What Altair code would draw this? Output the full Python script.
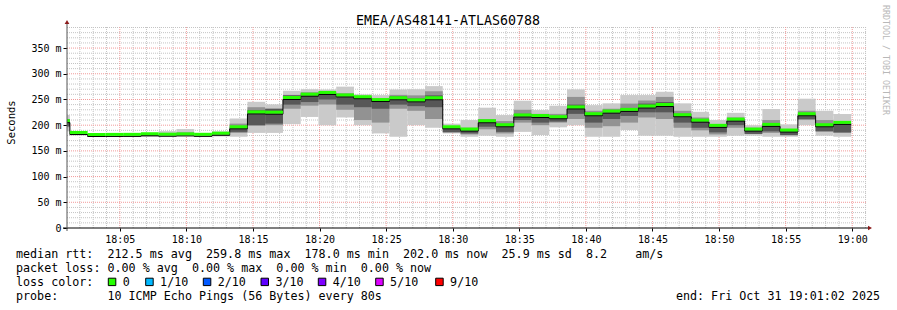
import altair as alt
import pandas as pd

# ---------------- data ----------------
seg_start = [
    "18:01:02", "18:01:15", "18:02:35", "18:03:55", "18:05:15", "18:06:35",
    "18:07:55", "18:09:15", "18:10:35", "18:11:55", "18:13:15", "18:14:35",
    "18:15:55", "18:17:15", "18:18:35", "18:19:55", "18:21:15", "18:22:35",
    "18:23:55", "18:25:15", "18:26:35", "18:27:55", "18:29:15", "18:30:35",
    "18:31:55", "18:33:15", "18:34:35", "18:35:55", "18:37:15", "18:38:35",
    "18:39:55", "18:41:15", "18:42:35", "18:43:55", "18:45:15", "18:46:35",
    "18:47:55", "18:49:15", "18:50:35", "18:51:55", "18:53:15", "18:54:35",
    "18:55:55", "18:57:15", "18:58:35",
]
seg_last_end = "18:59:55"
range_start = "18:01:02"
range_end = "19:01:02"

median_ms = [
    205.0, 182.0, 178.0, 178.2, 178.3, 179.5, 178.6, 179.2, 178.4, 180.6,
    193.0, 222.0, 221.5, 250.0, 256.5, 259.8, 255.0, 251.5, 246.0, 249.5,
    245.5, 249.5, 193.0, 188.6, 204.8, 197.0, 216.0, 215.0, 212.6, 231.7,
    218.4, 223.6, 226.9, 233.5, 236.3, 216.5, 206.0, 195.8, 208.0, 188.6,
    197.7, 186.7, 218.4, 197.0, 201.6,
]
ping_min = [
    188.0, 180.0, 177.0, 177.0, 177.5, 177.5, 178.0, 178.0, 177.5, 178.0,
    177.5, 185.0, 185.0, 202.0, 216.0, 200.0, 215.0, 200.0, 184.0, 177.5,
    200.0, 195.0, 184.0, 177.5, 179.5, 177.5, 187.0, 180.8, 195.8, 200.0,
    177.5, 177.5, 190.5, 179.5, 179.5, 177.5, 177.5, 177.5, 179.5, 179.5,
    177.5, 177.5, 200.0, 179.5, 177.5,
]
ping_q1 = [
    196.0, 181.0, 177.5, 177.5, 178.0, 178.5, 178.5, 179.0, 178.0, 179.5,
    185.0, 199.0, 200.0, 232.0, 238.0, 240.0, 230.0, 210.0, 205.0, 232.0,
    228.0, 212.0, 187.0, 182.0, 192.0, 184.0, 205.0, 200.0, 205.0, 212.0,
    195.0, 198.0, 205.0, 215.0, 212.0, 195.0, 190.0, 182.0, 195.0, 184.0,
    185.0, 180.0, 210.0, 188.0, 185.0,
]
ping_inner_lo = [
    198.0, 181.5, 177.8, 177.8, 178.0, 178.8, 178.5, 181.4, 178.0, 179.8,
    187.0, 200.0, 203.0, 240.0, 245.0, 250.0, 240.0, 235.0, 232.0, 240.0,
    237.0, 235.0, 186.0, 184.0, 197.0, 187.0, 210.0, 205.0, 207.0, 222.0,
    205.0, 212.0, 218.0, 225.0, 225.0, 205.0, 195.0, 186.0, 200.0, 183.0,
    188.0, 181.0, 212.0, 188.0, 186.0,
]
ping_inner_hi = [
    208.0, 182.5, 178.2, 178.4, 178.8, 180.0, 179.2, 185.3, 178.8, 181.5,
    197.0, 229.0, 232.0, 258.0, 262.0, 263.0, 260.0, 255.0, 250.0, 256.0,
    252.0, 258.0, 195.0, 192.0, 209.0, 200.0, 222.0, 218.0, 216.0, 240.0,
    222.0, 228.0, 232.0, 242.0, 245.0, 222.0, 210.0, 198.0, 212.0, 191.0,
    202.0, 189.0, 222.0, 200.0, 203.0,
]
ping_q3 = [
    212.0, 183.0, 178.5, 178.5, 180.0, 181.0, 183.0, 185.0, 180.0, 183.0,
    203.0, 235.0, 232.0, 259.0, 264.0, 265.0, 262.0, 256.0, 252.0, 259.0,
    258.0, 266.0, 197.0, 195.0, 212.0, 208.0, 230.0, 222.0, 222.0, 255.0,
    228.0, 232.0, 242.0, 248.0, 255.0, 228.0, 215.0, 200.0, 215.0, 195.0,
    210.0, 192.0, 228.0, 210.0, 205.0,
]
ping_max = [
    220.0, 184.0, 179.0, 179.0, 182.0, 182.5, 188.5, 192.5, 184.0, 188.0,
    213.0, 245.5, 240.5, 267.0, 270.0, 269.5, 275.0, 260.0, 258.5, 269.5,
    270.0, 276.0, 203.0, 210.0, 234.0, 219.7, 247.6, 229.4, 237.8, 269.7,
    239.0, 242.5, 258.6, 258.6, 265.0, 242.5, 226.0, 210.0, 224.0, 200.0,
    231.4, 201.6, 251.5, 228.0, 221.7,
]

y_ticks = [0, 50, 100, 150, 200, 250, 300, 350]
x_ticks_min = [5, 10, 15, 20, 25, 30, 35, 40, 45, 50, 55, 60]

title_text = "EMEA/AS48141-ATLAS60788"
y_title = "Seconds"
watermark = "RRDTOOL / TOBI OETIKER"
line_median = "median rtt:  212.5 ms avg  259.8 ms max  178.0 ms min  202.0 ms now  25.9 ms sd  8.2    am/s"
line_loss = "packet loss: 0.00 % avg  0.00 % max  0.00 % min  0.00 % now"
line_color_lbl = "loss color:"
line_probe = "probe:       10 ICMP Echo Pings (56 Bytes) every 80s"
line_end = "end: Fri Oct 31 19:01:02 2025"
loss_labels = ["0", "1/10", "2/10", "3/10", "4/10", "5/10", "9/10"]
loss_colors = ["#26ff00", "#00b8ff", "#0059ff", "#5e00ff", "#7e00ff", "#dd00ff", "#ff0000"]

# ---------------- build tables ----------------
def to_min(s):
    h, m, sec = (int(p) for p in s.split(":"))
    return (h - 18) * 60 + m + sec / 60.0

starts = [to_min(s) for s in seg_start]
ends = starts[1:] + [to_min(seg_last_end)]
df = pd.DataFrame({
    "t0": starts, "t1": ends, "med": median_ms,
    "lo": ping_min, "q1": ping_q1, "i1": ping_inner_lo, "i3": ping_inner_hi,
    "q3": ping_q3, "hi": ping_max,
})
line_df = pd.DataFrame({"t": starts + [ends[-1]], "med": median_ms + [median_ms[-1]]})

X0, X1 = to_min(range_start), to_min(range_end)
W, H = 799, 201
YMAX = 391
xs = alt.Scale(domain=[X0, X1], nice=False, zero=False)
ys = alt.Scale(domain=[0, YMAX], nice=False, zero=True)

MONO = "DejaVu Sans Mono"
NB = "\u00a0"

x_label_expr = ("(18 + floor(datum.value / 60)) + ':' + "
                "(datum.value % 60 < 10 ? '0' : '') + (datum.value % 60)")
y_label_expr = "datum.value == 0 ? '0' : datum.value + ' m'"

XA = alt.Axis(values=x_ticks_min, labelExpr=x_label_expr, title=None, grid=False, domain=False,
              ticks=True, tickSize=3, tickColor="#000000", labelFont=MONO, labelFontSize=10,
              labelColor="#000000", labelPadding=3, labelFlush=False)
YA = alt.Axis(values=y_ticks, labelExpr=y_label_expr, title=None, grid=False, domain=False,
              ticks=True, tickSize=4, tickColor="#000000", labelFont=MONO, labelFontSize=10,
              labelColor="#000000", labelPadding=2, labelBaseline="middle")

def X(f):
    return alt.X(f, scale=xs, axis=XA)

def Y(f):
    return alt.Y(f, scale=ys, axis=YA)

minor_x = pd.DataFrame({"v": [m for m in range(2, 62) if m % 5 != 0]})
major_x = pd.DataFrame({"v": x_ticks_min})
minor_y = pd.DataFrame({"v": [v for v in range(10, YMAX, 10) if v % 50 != 0]})
major_y = pd.DataFrame({"v": [v for v in y_ticks if v > 0]})

grid_minor_c = "#c4c4c4"
grid_major_c = "#f29a9a"

g1 = alt.Chart(minor_x).mark_rule(color=grid_minor_c, strokeDash=[1, 1], strokeWidth=1).encode(x=X("v:Q"))
g2 = alt.Chart(minor_y).mark_rule(color=grid_minor_c, strokeDash=[1, 1], strokeWidth=1).encode(y=Y("v:Q"))
g3 = alt.Chart(major_x).mark_rule(color=grid_major_c, strokeDash=[1, 1], strokeWidth=1).encode(x=X("v:Q"))
g4 = alt.Chart(major_y).mark_rule(color=grid_major_c, strokeDash=[1, 1], strokeWidth=1).encode(y=Y("v:Q"))

smoke_outer = alt.Chart(df).mark_rect(color="#cacaca").encode(
    x=X("t0:Q"), x2="t1:Q", y=Y("lo:Q"), y2="hi:Q")
smoke_mid = alt.Chart(df).mark_rect(color="#929292").encode(
    x=X("t0:Q"), x2="t1:Q", y=Y("q1:Q"), y2="q3:Q")
smoke_inner = alt.Chart(df).mark_rect(color="#575757").encode(
    x=X("t0:Q"), x2="t1:Q", y=Y("i1:Q"), y2="i3:Q")
med_black = alt.Chart(line_df).mark_line(color="#000000", strokeWidth=1, interpolate="step-after").encode(
    x=X("t:Q"), y=Y("med:Q"))
med_green = alt.Chart(df).mark_rule(color=loss_colors[0], strokeWidth=3, yOffset=-2).encode(
    x=X("t0:Q"), x2="t1:Q", y=Y("med:Q"))

one = pd.DataFrame({"k": [0]})

def txt(s, x, y, size=11.7, **kw):
    return alt.Chart(pd.DataFrame({"s": [s.replace(" ", NB)]})).mark_text(
        font=MONO, fontSize=size, color=kw.pop("color", "#000000"), **kw
    ).encode(text="s:N", x=alt.value(x), y=alt.value(y))

# axis lines + arrows
x_axis_line = alt.Chart(one).mark_rule(color="#000000", strokeWidth=1).encode(
    x=alt.value(-4), x2=alt.value(W + 2), y=alt.value(H))
y_axis_line = alt.Chart(one).mark_rule(color="#555555", strokeWidth=1).encode(
    x=alt.value(0), y=alt.value(H + 3), y2=alt.value(-4))
arrow_up = alt.Chart(one).mark_point(shape="triangle-up", filled=True, color="#8b1a1a", size=22, opacity=1).encode(
    x=alt.value(0), y=alt.value(-5))
arrow_right = alt.Chart(one).mark_point(shape="triangle-right", filled=True, color="#8b1a1a", size=22, opacity=1).encode(
    x=alt.value(W + 4), y=alt.value(H))

layers = [g1, g2, g3, g4, smoke_outer, smoke_mid, smoke_inner, med_black, med_green,
          x_axis_line, y_axis_line, arrow_up, arrow_right]

# texts (positions relative to plot origin at 67, 27)
layers.append(txt(title_text, 381, -2, size=13.3, align="center", baseline="alphabetic"))
layers.append(txt(y_title, -52, 95.5, size=10.5, align="center", baseline="alphabetic", angle=270))
layers.append(txt(watermark, 816, -22, size=8.3, align="left", baseline="alphabetic", angle=90, color="#b8b8b8"))
layers.append(txt(line_median, -51, 230.5, align="left", baseline="alphabetic"))
layers.append(txt(line_loss, -51, 244.5, align="left", baseline="alphabetic"))
layers.append(txt(line_color_lbl, -51, 258.5, align="left", baseline="alphabetic"))
layers.append(txt(line_probe, -51, 272.5, align="left", baseline="alphabetic"))
layers.append(txt(line_end, 813, 272.5, align="right", baseline="alphabetic"))

sq_left = [41.3, 78.7, 136.3, 194.0, 251.3, 308.7, 368.7]
for i, (lab, col) in enumerate(zip(loss_labels, loss_colors)):
    xl = sq_left[i]
    layers.append(alt.Chart(one).mark_rect(color=col, stroke="#000000", strokeWidth=1).encode(
        x=alt.value(xl), x2=alt.value(xl + 7.5), y=alt.value(251.2), y2=alt.value(258.6)))
    layers.append(txt(lab, xl + 14.4, 258.5, align="left", baseline="alphabetic"))

chart = alt.layer(*layers).properties(
    width=W, height=H,
    padding={"left": 67, "top": 27, "right": 31, "bottom": 82},
    autosize=alt.AutoSizeParams(type="none"),
    background="#ffffff",
).configure_view(stroke=None)

chart.save("out.html", embed_options={"renderer": "svg", "actions": False})
